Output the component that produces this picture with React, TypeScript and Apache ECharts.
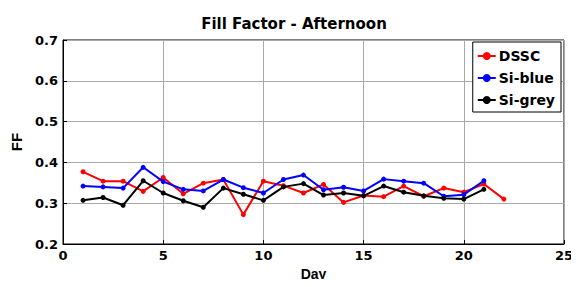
import React, { useEffect, useRef } from "react";
import * as echarts from "echarts";

const days = [1, 2, 3, 4, 5, 6, 7, 8, 9, 10, 11, 12, 13, 14, 15, 16, 17, 18, 19, 20, 21, 22];
const dssc = [0.377, 0.354, 0.354, 0.329, 0.363, 0.323, 0.349, 0.358, 0.272, 0.354, 0.343, 0.325, 0.346, 0.302, 0.319, 0.316, 0.342, 0.317, 0.337, 0.327, 0.347, 0.31];
const siBlue = [0.342, 0.34, 0.337, 0.388, 0.353, 0.334, 0.33, 0.358, 0.338, 0.325, 0.358, 0.369, 0.333, 0.339, 0.33, 0.359, 0.354, 0.349, 0.317, 0.321, 0.355];
const siGrey = [0.307, 0.314, 0.295, 0.355, 0.325, 0.306, 0.29, 0.337, 0.322, 0.307, 0.34, 0.348, 0.32, 0.325, 0.318, 0.342, 0.327, 0.318, 0.312, 0.31, 0.334];
const xTicks = [0, 5, 10, 15, 20, 25];
const yTicks = [0.2, 0.3, 0.4, 0.5, 0.6, 0.7];

const font = "'DejaVu Sans', sans-serif";
const nameFont = "'Liberation Sans', Arial, sans-serif";

export default function App() {
  const ref = useRef<HTMLDivElement>(null);
  useEffect(() => {
    const chart = echarts.init(ref.current!, null, { renderer: "svg" });
    const mk = (name: string, vals: number[], color: string) => ({
      name,
      type: "line",
      data: vals.map((v, i) => [days[i], v]),
      symbol: "circle",
      symbolSize: 5,
      lineStyle: { color, width: 2 },
      itemStyle: { color },
      z: name === "DSSC" ? 3 : name === "Si-blue" ? 4 : 5,
    });
    chart.setOption({
      animation: false,
      backgroundColor: "#fff",
      title: {
        text: "Fill Factor - Afternoon",
        left: 289,
        top: 11,
        textAlign: "center",
        textStyle: { fontFamily: font, fontSize: 15, fontWeight: "bold", color: "#000" },
      },
      legend: {
        orient: "vertical",
        right: 18,
        top: 42,
        backgroundColor: "#fff",
        borderColor: "#000",
        borderWidth: 1,
        padding: [6, 6, 4, 4],
        itemGap: 6,
        itemWidth: 18,
        itemHeight: 10,
        textStyle: { fontFamily: font, fontSize: 14, fontWeight: "bold", color: "#000", lineHeight: 16, padding: [0, 0, 0, -2] },
        data: ["DSSC", "Si-blue", "Si-grey"],
      },
      grid: {
        left: 63,
        right: 15,
        top: 40,
        bottom: 43,
        show: true,
        borderColor: "#000",
        borderWidth: 1,
        outerBoundsMode: "none",
        containLabel: false,
      },
      xAxis: {
        type: "value",
        min: 0,
        max: 25,
        interval: 5,
        name: "Day",
        nameLocation: "middle",
        nameGap: 17,
        nameTextStyle: { fontFamily: nameFont, fontSize: 14, fontWeight: "bold", color: "#000" },
        axisLine: { lineStyle: { color: "#000", width: 1 } },
        axisTick: { inside: true, length: 4, lineStyle: { color: "#000" } },
        axisLabel: {
          fontFamily: font,
          fontSize: 13,
          fontWeight: "bold",
          color: "#000",
          margin: 5,
          formatter: (v: number) => (xTicks.includes(v) ? String(v) : ""),
        },
        splitLine: { show: true, lineStyle: { color: "#aaa", width: 1 } },
      },
      yAxis: {
        type: "value",
        min: 0.2,
        max: 0.7,
        interval: 0.1,
        name: "FF",
        nameLocation: "middle",
        nameGap: 37,
        nameTextStyle: { fontFamily: nameFont, fontSize: 15, fontWeight: "bold", color: "#000" },
        axisLine: { show: true, lineStyle: { color: "#000", width: 1 } },
        axisTick: { show: true, inside: true, length: 4, lineStyle: { color: "#000" } },
        axisLabel: {
          fontFamily: font,
          fontSize: 13,
          fontWeight: "bold",
          color: "#000",
          margin: 5,
          formatter: (v: number) => {
            const t = yTicks.find((y) => Math.abs(y - v) < 1e-6);
            return t !== undefined ? t.toFixed(1) : "";
          },
        },
        splitLine: { show: true, lineStyle: { color: "#aaa", width: 1 } },
      },
      series: [mk("DSSC", dssc, "#ff0000"), mk("Si-blue", siBlue, "#0000ff"), mk("Si-grey", siGrey, "#000000")],
    });
    return () => chart.dispose();
  }, []);
  return <div ref={ref} style={{ width: 579, height: 287, margin: -8 }} />;
}
